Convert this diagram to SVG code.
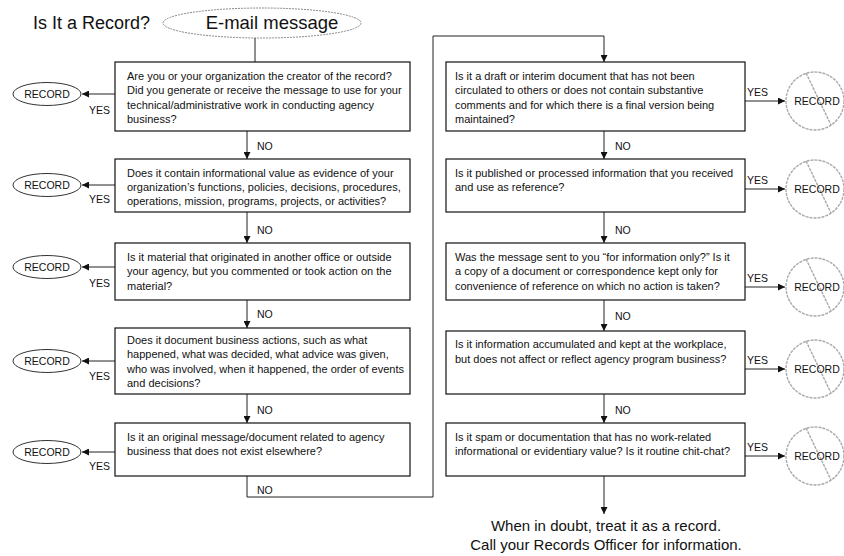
<svg xmlns="http://www.w3.org/2000/svg" width="844" height="556" viewBox="0 0 844 556">
<defs>
<style>
.t{font-family:"Liberation Sans",Arial,sans-serif;font-size:11px;fill:#111}
.lbl{font-family:"Liberation Sans",Arial,sans-serif;font-size:10.5px;fill:#111}
.rec{font-family:"Liberation Sans",Arial,sans-serif;font-size:10.5px;fill:#111;text-anchor:middle}
.big{font-family:"Liberation Sans",Arial,sans-serif;fill:#111}
.box{fill:#fff;stroke:#111;stroke-width:1.2}
.ell{fill:#fff;stroke:#333;stroke-width:1}
.no{fill:none;stroke:#aaa;stroke-width:1.4;stroke-dasharray:3 1}
.c{fill:none;stroke:#222;stroke-width:1}
</style>
<marker id="ah" viewBox="0 0 10 10" refX="10" refY="5" markerWidth="7" markerHeight="7" markerUnits="userSpaceOnUse" orient="auto">
<path d="M0,0 L10,5 L0,10 z" fill="#111"/>
</marker>
</defs>
<rect width="844" height="556" fill="#fff"/>

<g id="title">
<text class="big" x="33" y="29" font-size="18">Is It a Record?</text>
</g>
<g id="start">
<ellipse cx="262" cy="23" rx="99" ry="15" fill="#fff" stroke="#888" stroke-width="1" stroke-dasharray="2 1"/>
<text class="big" x="272" y="29" text-anchor="middle" font-size="18.5">E-mail message</text>
</g>

<g id="connectors">
<line class="c" x1="255" y1="38" x2="255" y2="62"/>
<line class="c" x1="247" y1="131" x2="247" y2="159" marker-end="url(#ah)"/>
<line class="c" x1="247" y1="212" x2="247" y2="243" marker-end="url(#ah)"/>
<line class="c" x1="247" y1="300" x2="247" y2="328" marker-end="url(#ah)"/>
<line class="c" x1="247" y1="394" x2="247" y2="423" marker-end="url(#ah)"/>
<polyline class="c" points="247,476 247,497 433,497 433,36 604,36 604,62" marker-end="url(#ah)"/>
<line class="c" x1="604" y1="131" x2="604" y2="159" marker-end="url(#ah)"/>
<line class="c" x1="604" y1="212" x2="604" y2="243" marker-end="url(#ah)"/>
<line class="c" x1="604" y1="300" x2="604" y2="331" marker-end="url(#ah)"/>
<line class="c" x1="604" y1="394" x2="604" y2="423" marker-end="url(#ah)"/>
<line class="c" x1="604" y1="476" x2="604" y2="514" marker-end="url(#ah)"/>
<line class="c" x1="115" y1="94" x2="82" y2="94" marker-end="url(#ah)"/>
<line class="c" x1="115" y1="185" x2="82" y2="185" marker-end="url(#ah)"/>
<line class="c" x1="115" y1="267" x2="82" y2="267" marker-end="url(#ah)"/>
<line class="c" x1="115" y1="361" x2="82" y2="361" marker-end="url(#ah)"/>
<line class="c" x1="115" y1="452" x2="82" y2="452" marker-end="url(#ah)"/>
<line class="c" x1="745" y1="101" x2="785" y2="101" marker-end="url(#ah)"/>
<line class="c" x1="745" y1="189" x2="785" y2="189" marker-end="url(#ah)"/>
<line class="c" x1="745" y1="287" x2="785" y2="287" marker-end="url(#ah)"/>
<line class="c" x1="745" y1="369" x2="785" y2="369" marker-end="url(#ah)"/>
<line class="c" x1="745" y1="456" x2="785" y2="456" marker-end="url(#ah)"/>
<text class="lbl" x="257" y="150">NO</text>
<text class="lbl" x="257" y="234">NO</text>
<text class="lbl" x="257" y="318">NO</text>
<text class="lbl" x="257" y="414">NO</text>
<text class="lbl" x="257" y="494">NO</text>
<text class="lbl" x="615" y="150">NO</text>
<text class="lbl" x="615" y="234">NO</text>
<text class="lbl" x="615" y="320">NO</text>
<text class="lbl" x="615" y="414">NO</text>
<text class="lbl" x="89" y="114">YES</text>
<text class="lbl" x="89" y="203">YES</text>
<text class="lbl" x="89" y="287">YES</text>
<text class="lbl" x="89" y="380">YES</text>
<text class="lbl" x="89" y="470">YES</text>
<text class="lbl" x="747" y="96">YES</text>
<text class="lbl" x="747" y="184">YES</text>
<text class="lbl" x="747" y="282">YES</text>
<text class="lbl" x="747" y="364">YES</text>
<text class="lbl" x="747" y="451">YES</text>
</g>

<g id="q1">
<rect class="box" x="115" y="62" width="295" height="69"/>
<text class="t" x="127" y="80">Are you or your organization the creator of the record?</text>
<text class="t" x="127" y="94">Did you generate or receive the message to use for your</text>
<text class="t" x="127" y="109">technical/administrative work in conducting agency</text>
<text class="t" x="127" y="123">business?</text>
</g>
<g id="q2">
<rect class="box" x="115" y="159" width="295" height="53"/>
<text class="t" x="127" y="177">Does it contain informational value as evidence of your</text>
<text class="t" x="127" y="191">organization’s functions, policies, decisions, procedures,</text>
<text class="t" x="127" y="205">operations, mission, programs, projects, or activities?</text>
</g>
<g id="q3">
<rect class="box" x="115" y="243" width="295" height="57"/>
<text class="t" x="127" y="261">Is it material that originated in another office or outside</text>
<text class="t" x="127" y="275">your agency, but you commented or took action on the</text>
<text class="t" x="127" y="290">material?</text>
</g>
<g id="q4">
<rect class="box" x="115" y="328" width="295" height="66"/>
<text class="t" x="127" y="344">Does it document business actions, such as what</text>
<text class="t" x="127" y="358">happened, what was decided, what advice was given,</text>
<text class="t" x="127" y="373">who was involved, when it happened, the order of events</text>
<text class="t" x="127" y="387">and decisions?</text>
</g>
<g id="q5">
<rect class="box" x="115" y="423" width="295" height="53"/>
<text class="t" x="127" y="441">Is it an original message/document related to agency</text>
<text class="t" x="127" y="455">business that does not exist elsewhere?</text>
</g>

<g id="q6">
<rect class="box" x="446" y="62" width="299" height="69"/>
<text class="t" x="455" y="80">Is it a draft or interim document that has not been</text>
<text class="t" x="455" y="94">circulated to others or does not contain substantive</text>
<text class="t" x="455" y="109">comments and for which there is a final version being</text>
<text class="t" x="455" y="123">maintained?</text>
</g>
<g id="q7">
<rect class="box" x="446" y="159" width="299" height="53"/>
<text class="t" x="455" y="177">Is it published or processed information that you received</text>
<text class="t" x="455" y="191">and use as reference?</text>
</g>
<g id="q8">
<rect class="box" x="446" y="243" width="299" height="57"/>
<text class="t" x="455" y="261">Was the message sent to you “for information only?” Is it</text>
<text class="t" x="455" y="275">a copy of a document or correspondence kept only for</text>
<text class="t" x="455" y="290">convenience of reference on which no action is taken?</text>
</g>
<g id="q9">
<rect class="box" x="446" y="331" width="299" height="63"/>
<text class="t" x="455" y="348">Is it information accumulated and kept at the workplace,</text>
<text class="t" x="455" y="363">but does not affect or reflect agency program business?</text>
</g>
<g id="q10">
<rect class="box" x="446" y="423" width="299" height="53"/>
<text class="t" x="455" y="441">Is it spam or documentation that has no work-related</text>
<text class="t" x="455" y="455">informational or evidentiary value? Is it routine chit-chat?</text>
</g>

<g id="rec1"><ellipse class="ell" cx="47" cy="94" rx="34" ry="11.5"/><text class="rec" x="47" y="98">RECORD</text></g>
<g id="rec2"><ellipse class="ell" cx="47" cy="185" rx="34" ry="11.5"/><text class="rec" x="47" y="189">RECORD</text></g>
<g id="rec3"><ellipse class="ell" cx="47" cy="267" rx="34" ry="11.5"/><text class="rec" x="47" y="271">RECORD</text></g>
<g id="rec4"><ellipse class="ell" cx="47" cy="361" rx="34" ry="11.5"/><text class="rec" x="47" y="365">RECORD</text></g>
<g id="rec5"><ellipse class="ell" cx="47" cy="452" rx="34" ry="11.5"/><text class="rec" x="47" y="456">RECORD</text></g>

<g id="norec1"><circle class="no" cx="815" cy="101" r="29"/><line class="no" x1="806" y1="73" x2="831" y2="125"/><text class="rec" x="817" y="105">RECORD</text></g>
<g id="norec2"><circle class="no" cx="815" cy="189" r="29"/><line class="no" x1="806" y1="161" x2="831" y2="213"/><text class="rec" x="817" y="193">RECORD</text></g>
<g id="norec3"><circle class="no" cx="815" cy="287" r="29"/><line class="no" x1="806" y1="259" x2="831" y2="311"/><text class="rec" x="817" y="291">RECORD</text></g>
<g id="norec4"><circle class="no" cx="815" cy="369" r="29"/><line class="no" x1="806" y1="341" x2="831" y2="393"/><text class="rec" x="817" y="373">RECORD</text></g>
<g id="norec5"><circle class="no" cx="815" cy="456" r="29"/><line class="no" x1="806" y1="428" x2="831" y2="480"/><text class="rec" x="817" y="460">RECORD</text></g>

<g id="end">
<text class="big" x="606" y="531" text-anchor="middle" font-size="15">When in doubt, treat it as a record.</text>
<text class="big" x="606" y="550" text-anchor="middle" font-size="15">Call your Records Officer for information.</text>
</g>
</svg>
